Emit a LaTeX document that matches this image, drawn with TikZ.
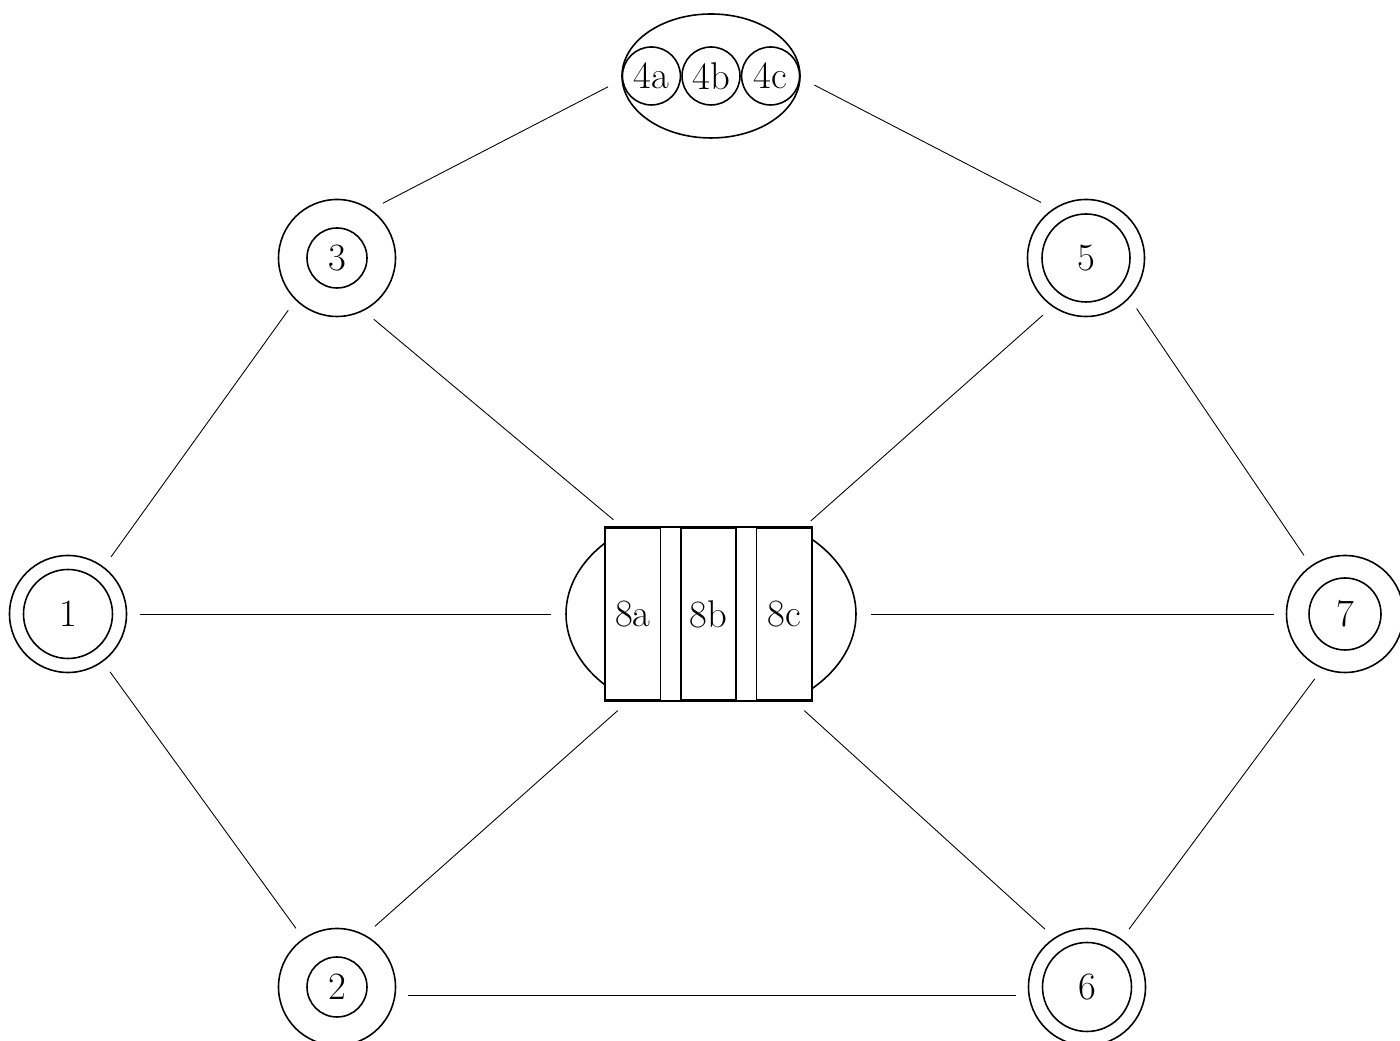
\documentclass[tikz,border=0pt]{standalone}
\usepackage{tikz}
\usetikzlibrary{shapes.geometric, positioning, fit}

\begin{document}
\begin{tikzpicture}[
  every node/.style={font=\fontsize{22}{26}\selectfont},
  ring/.style={circle, draw, line width=0.9pt, minimum size=2.34cm, inner sep=0pt, outer sep=0.26cm},
  core/.style={circle, draw, line width=0.9pt, minimum size=#1, inner sep=0pt},
  sub/.style={circle, draw, line width=0.9pt, minimum size=1.16cm, inner sep=0pt},
  group/.style={ellipse, draw, line width=0.9pt, inner sep=0pt, outer sep=0.3cm},
  slot/.style={rectangle, draw, line width=0.9pt, fill=white, minimum width=1.1cm, minimum height=3.44cm, inner sep=0pt},
  link/.style={line width=0.5pt}
]
\useasboundingbox (0,0) rectangle (28,20.82);

% single nodes
\node (n1) [ring] at (1.36,8.54) {};
\node (c1) [core=1.78cm] at (n1) {1};
\node (n3) [ring] at (6.74,15.66) {};
\node (c3) [core=1.2cm] at (n3) {3};
\node (n2) [ring] at (6.74,1.08) {};
\node (c2) [core=1.2cm] at (n2) {2};
\node (n5) [ring] at (21.72,15.66) {};
\node (c5) [core=1.76cm] at (n5) {5};
\node (n6) [ring] at (21.74,1.08) {};
\node (c6) [core=1.78cm] at (n6) {6};
\node (n7) [ring] at (26.9,8.54) {};
\node (c7) [core=1.44cm] at (n7) {7};

% group 4
\node (g4) [group, minimum width=3.56cm, minimum height=2.48cm] at (14.22,19.3) {};
\node (n4b) [sub] at (g4) {4b};
\node (n4a) [sub, left=0pt of n4b] {4a};
\node (n4c) [sub, right=0pt of n4b] {4c};

% group 8
\begin{scope}
  \clip (10,6.82) rectangle (18.5,10.26);
  \node (g8) [group, minimum width=5.8cm, minimum height=4.16cm] at (14.22,8.54) {};
\end{scope}
\node (b8b) [slot] at (14.17,8.54) {8b};
\node (b8a) [slot, left=0.38cm of b8b] {8a};
\node (b8c) [slot, right=0.38cm of b8b] {8c};
\node (f8) [draw, line width=0.9pt, inner sep=0pt, fit=(b8a)(b8c)] {};

\draw [link] (n1.53) -- (n3.227);
\draw [link] (n1.east) -- (g8.west);
\draw [link] (n1.-54) -- (n2.125);
\draw [link] (n3.50) -- (g4.186);
\draw [link] (n3.-59) -- (g8.136);
\draw [link] (g4.-5) -- (n5.129);
\draw [link] (n5.233) -- (g8.43);
\draw [link] (n5.-45) -- (n7.125);
\draw [link] (g8.east) -- (n7.west);
\draw [link] (n7.245) -- (n6.54);
\draw [link] (g8.226) -- (n2.58);
\draw [link] (g8.-46) -- (n6.126);
\draw [link] (n2.-7) -- (n6.187);

\end{tikzpicture}
\end{document}
